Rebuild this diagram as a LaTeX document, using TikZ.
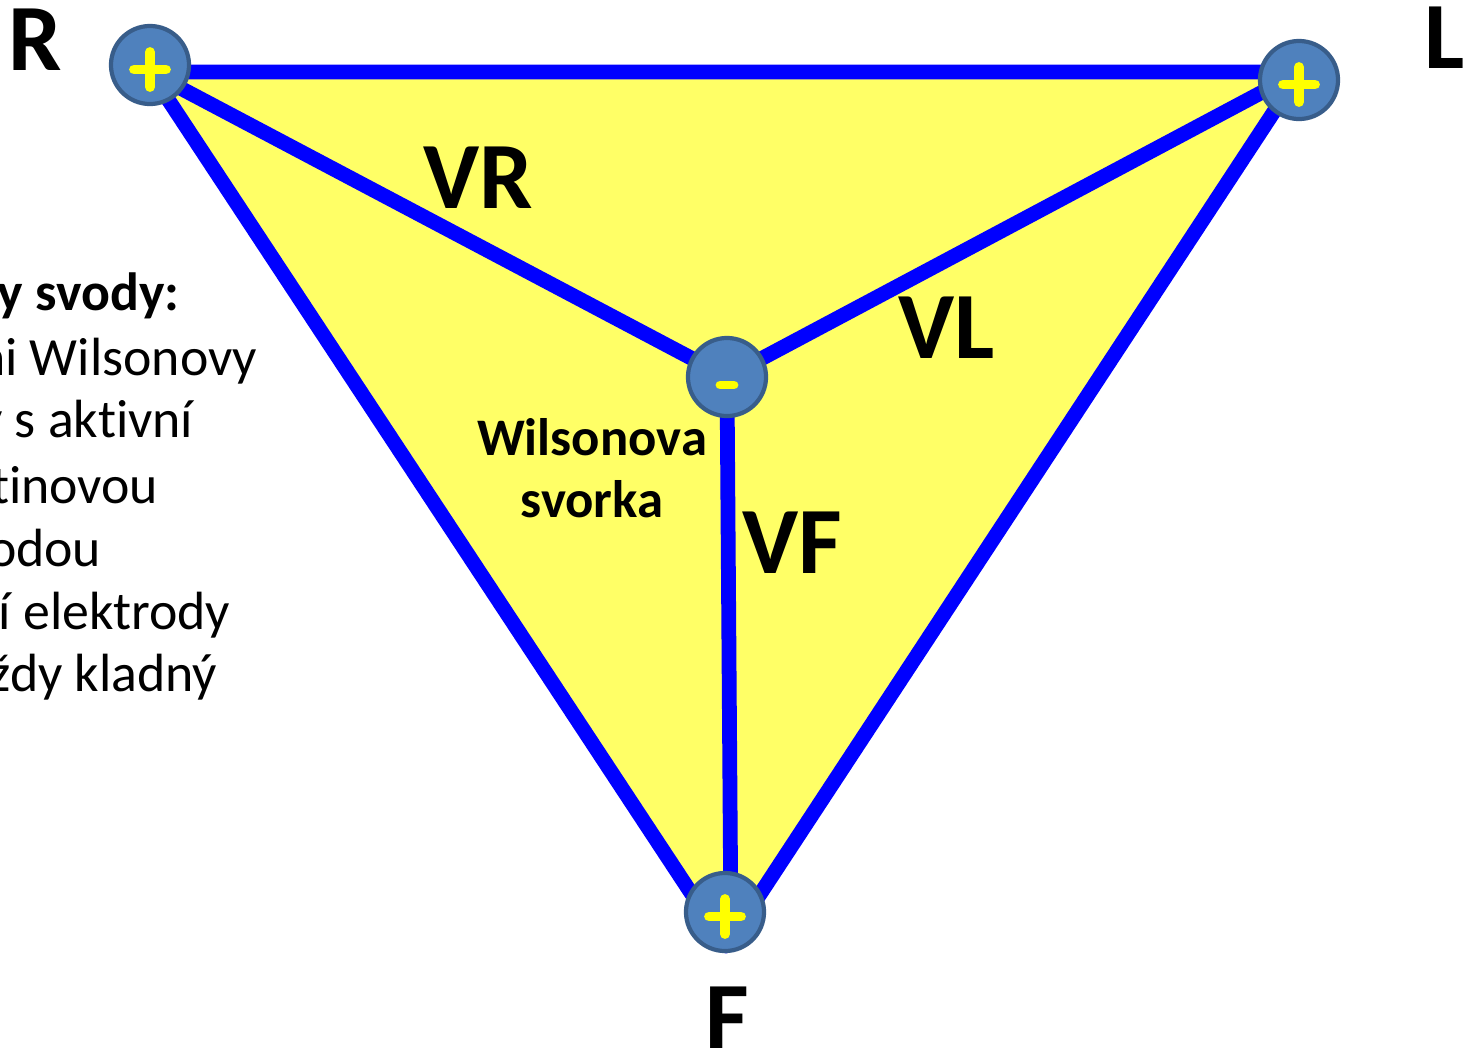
\documentclass[tikz,border=0pt]{standalone}
\usepackage{fontspec}
\setmainfont[Ligatures=NoCommon]{Carlito}
\usetikzlibrary{positioning}
\definecolor{cLead}{RGB}{0,0,255}
\definecolor{cFill}{RGB}{255,255,102}
\definecolor{cElec}{RGB}{79,129,189}
\definecolor{cElecDraw}{RGB}{56,93,138}
\definecolor{cSign}{RGB}{255,255,0}
\tikzset{
	lead/.style     ={line width=4.2pt, draw=cLead, line join=round, line cap=round},
	electrode/.style={circle, draw=cElecDraw, line width=1.2pt, fill=cElec, minimum size=0.78cm, inner sep=0pt},
	signline/.style ={draw=cSign, line width=2.8pt, line cap=round},
	plusel/.style   ={electrode, path picture={
		\draw[signline] ([shift={(-1.6mm,-0.45mm)}]path picture bounding box.center) -- ([shift={(1.6mm,-0.45mm)}]path picture bounding box.center);
		\draw[signline] ([shift={(0,1.3mm)}]path picture bounding box.center) -- ([shift={(0,-2.2mm)}]path picture bounding box.center);}},
	minusel/.style  ={electrode, path picture={
		\draw[signline, line width=2.5pt] ([shift={(-0.7mm,-0.8mm)}]path picture bounding box.center) -- ([shift={(0.7mm,-0.8mm)}]path picture bounding box.center);}},
	biglabel/.style ={anchor=base, inner sep=0pt, font=\fontsize{27}{30}\selectfont\bfseries},
	midlabel/.style ={align=center, inner sep=0pt, font=\fontsize{15}{17.8}\selectfont\bfseries},
	sidetext/.style ={anchor=base east, inner sep=0pt, font=\fontsize{15.3}{18}\selectfont},
}
\begin{document}
\begin{tikzpicture}[x=0.01cm, y=-0.01cm]
	\useasboundingbox[fill=white] (0,0) rectangle (1466,1051);
	% triangle corners and Wilson terminal
	\coordinate (cR) at (150,72);
	\coordinate (cL) at (1300,72);
	\coordinate (cF) at (726,946);
	\coordinate (cW) at (727,377);
	\coordinate (cFtip) at (731,935);
	\filldraw[lead, fill=cFill] (cR) -- (cL) -- (cF) -- cycle;
	\draw[lead] (cW) -- (cR);
	\draw[lead] (cW) -- (cL);
	\draw[lead] (cW) -- (cFtip);
	% electrodes
	\node[plusel] (eR) at (150,65) {};
	\node[plusel] (eL) at (1299,80) {};
	\node[plusel] (eF) at (725,912) {};
	\node[minusel] (eW) at (727,377) {};
	% limb and lead labels
	\node[biglabel] (lR) at (35,70) {R};
	\node[biglabel] (lL) at (1445,68) {L};
	\node[biglabel] (lF) at (727,1048) {F};
	\node[biglabel] (lVR) at (478,208) {VR};
	\node[biglabel] (lVL) at (947,358) {VL};
	\node[biglabel] (lVF) at (792,573) {VF};
	\node[midlabel] (lW) at (592,468) {Wilsonova\\svorka};
	% text cut at the left edge
	\node[sidetext, font=\fontsize{15.3}{18}\selectfont\bfseries] (t0) at (180,310) {y svody:};
	\node[sidetext] (t1) at (258,375) {ni Wilsonovy};
	\node[sidetext] (t2) at (194,437) {y s aktivní};
	\node[sidetext] (t3) at (159,503) {tinovou};
	\node[sidetext] (t4) at (102,566) {odou};
	\node[sidetext] (t5) at (231,629) {í elektrody};
	\node[sidetext] (t6) at (218,691) {ždy kladný};
\end{tikzpicture}
\end{document}
